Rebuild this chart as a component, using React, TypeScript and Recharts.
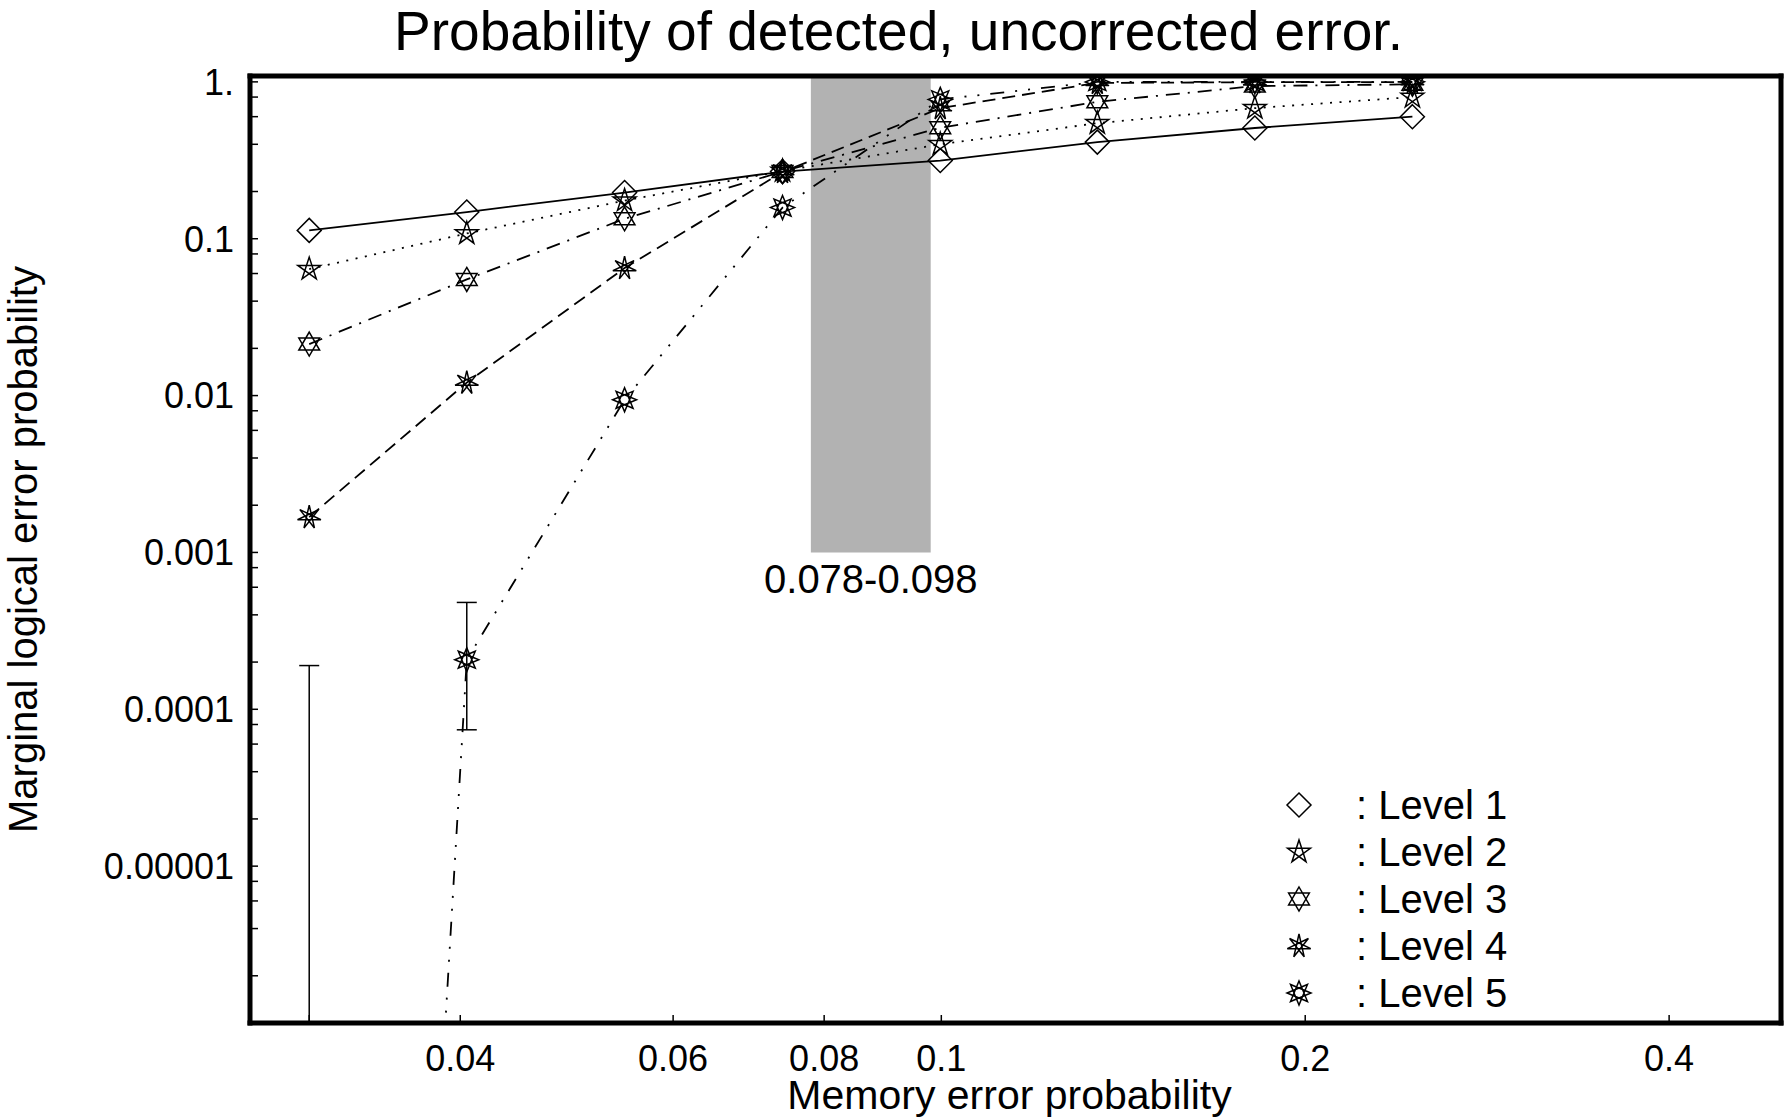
import React from 'react'
import {
  LineChart, Line, XAxis, YAxis, ReferenceArea, ErrorBar, Legend,
} from 'recharts'

const FONT = '"Liberation Sans", Arial, Helvetica, sans-serif'

// ── data ──────────────────────────────────────────────
const memoryError = [0.03, 0.0405, 0.0547, 0.0739, 0.0998, 0.1346, 0.1817, 0.2453]

const level1 = [0.113, 0.148, 0.197, 0.268, 0.315, 0.413, 0.508, 0.6]
const level2 = [0.064, 0.108, 0.175, 0.27, 0.4, 0.545, 0.68, 0.8]
const level3 = [0.0213, 0.055, 0.134, 0.268, 0.51, 0.746, 0.94, 0.965]
const level4 = [0.00168, 0.0121, 0.065, 0.266, 0.68, 0.985, 0.995, 0.998]
// first point is (practically) zero, far below the plot floor
const level5 = [2e-21, 0.000207, 0.0094, 0.158, 0.773, 0.999, 1.0, 1.0]

// error bounds on level 5 (only visible ones)
const level5Lower = [1e-6, 7.4e-5, null, null, null, null, null, null]
const level5Upper = [1.9e-4, 4.8e-4, null, null, null, null, null, null]

const xTicks = [0.03, 0.04, 0.06, 0.08, 0.1, 0.2, 0.4]
const xTickLabels = ['', '0.04', '0.06', '0.08', '0.1', '0.2', '0.4']

const yMajorTicks = [1e-5, 1e-4, 1e-3, 0.01, 0.1, 1]
const yMajorLabels = ['0.00001', '0.0001', '0.001', '0.01', '0.1', '1.']
const yMinorTicks = [
  1e-6, 2e-6, 4e-6, 6e-6, 8e-6,
  2e-5, 4e-5, 6e-5, 8e-5,
  2e-4, 4e-4, 6e-4, 8e-4,
  0.002, 0.004, 0.006, 0.008,
  0.02, 0.04, 0.06, 0.08,
  0.2, 0.4, 0.6, 0.8,
]

const bandRange = [0.078, 0.098]
const bandFloor = 0.001

const levelNames = ['Level 1', 'Level 2', 'Level 3', 'Level 4', 'Level 5']

const rows = memoryError.map((p, i) => ({
  p,
  l1: level1[i],
  l2: level2[i],
  l3: level3[i],
  l4: level4[i],
  l5: level5[i],
  eb: level5Upper[i],
  ebErr: level5Upper[i] != null ? [level5Upper[i]! - level5Lower[i]!, 0] : undefined,
}))

const yTicks = [...yMinorTicks, ...yMajorTicks].sort((a, b) => a - b)

const fmtX = (v: number) => {
  const i = xTicks.findIndex(t => Math.abs(t - v) < t * 1e-6)
  return i >= 0 ? xTickLabels[i] : ''
}
const fmtY = (v: number) => {
  const i = yMajorTicks.findIndex(t => Math.abs(t - v) < t * 1e-6)
  return i >= 0 ? yMajorLabels[i] : ''
}

// ── markers ───────────────────────────────────────────
const R = 12

function starPath(cx: number, cy: number, r: number, n: number, k: number) {
  const pts = Array.from({ length: n }, (_, i) => {
    const a = -Math.PI / 2 + (i * 2 * Math.PI) / n
    return [cx + r * Math.cos(a), cy + r * Math.sin(a)]
  })
  const gcd = (a: number, b: number): number => (b ? gcd(b, a % b) : a)
  const loops = gcd(n, k)
  let d = ''
  for (let s = 0; s < loops; s++) {
    let idx = s
    for (let j = 0; j < n / loops; j++) {
      const [x, y] = pts[idx]
      d += `${j === 0 ? 'M' : 'L'}${x.toFixed(2)},${y.toFixed(2)} `
      idx = (idx + k) % n
    }
    d += 'Z '
  }
  return d
}

function markerPath(kind: number, cx: number, cy: number) {
  switch (kind) {
    case 0:
      return `M${cx},${cy - R} L${cx + R},${cy} L${cx},${cy + R} L${cx - R},${cy} Z`
    case 1:
      return starPath(cx, cy, R, 5, 2)
    case 2:
      return starPath(cx, cy, R, 6, 2)
    case 3:
      return starPath(cx, cy, R, 7, 3)
    default:
      return starPath(cx, cy, R, 8, 3)
  }
}

const makeDot = (kind: number) => (props: any) => {
  const { cx, cy, index } = props
  if (cx == null || cy == null || !isFinite(cx) || !isFinite(cy)) return <g key={`d${kind}-${index}`} />
  return (
    <path key={`d${kind}-${index}`} d={markerPath(kind, cx, cy)}
      fill="none" stroke="#000" strokeWidth={1.5} strokeLinejoin="miter" />
  )
}

const LegendBox = () => (
  <svg width={320} height={240}>
    {levelNames.map((name, i) => (
      <g key={name}>
        <path d={markerPath(i, 29, 25 + i * 47)} fill="none" stroke="#000" strokeWidth={1.5} />
        <text x={86} y={25 + i * 47} dy="0.36em" fontSize={40} fontFamily={FONT} fill="#000">
          : {name}
        </text>
      </g>
    ))}
  </svg>
)

const axisLine = { stroke: '#000', strokeWidth: 5, strokeLinecap: 'square' as const }
const tickLine = { stroke: '#000', strokeWidth: 1.5 }
const xDomain = [0.0268, 0.495]
const yDomain = [1e-6, 1.09]

const series = [
  { key: 'l1', dash: undefined },
  { key: 'l2', dash: '2 7.5' },
  { key: 'l3', dash: '14 8 2 8' },
  { key: 'l4', dash: '13 7' },
  { key: 'l5', dash: '14 11 2 11 2 11' },
]

export default function App() {
  return (
    <div style={{ position: 'absolute', left: 0, top: 0, width: 1787, height: 1119, background: '#fff', fontFamily: FONT }}>
      <LineChart width={1787} height={1119} data={rows}
        margin={{ top: 75, right: 5, left: 0, bottom: 0 }}>
        <XAxis dataKey="p" type="number" scale="log" domain={xDomain} allowDataOverflow
          ticks={xTicks} interval={0} tickFormatter={fmtX}
          tickSize={-8} tickMargin={30} height={96}
          axisLine={axisLine} tickLine={tickLine}
          tick={{ fill: '#000', fontSize: 36, fontFamily: FONT }}
          label={{ value: 'Memory error probability', position: 'insideBottom', offset: 10, dx: -6, fill: '#000', fontSize: 41, fontFamily: FONT }} />
        <XAxis xAxisId="top" orientation="top" dataKey="p" type="number" scale="log" domain={xDomain} allowDataOverflow
          ticks={xTicks} interval={0} tick={false} tickSize={-8} height={1}
          axisLine={axisLine} tickLine={tickLine} />
        <YAxis type="number" scale="log" domain={yDomain} allowDataOverflow
          ticks={yTicks} interval={0} tickFormatter={fmtY}
          tickSize={-8} tickMargin={24} width={250}
          axisLine={axisLine} tickLine={tickLine}
          tick={{ fill: '#000', fontSize: 36, fontFamily: FONT }}
          label={{ value: 'Marginal logical error probability', angle: -90, position: 'insideLeft', offset: 32, dx: -9, fill: '#000', fontSize: 40, fontFamily: FONT, style: { textAnchor: 'middle' } }} />
        <YAxis yAxisId="right" orientation="right" type="number" scale="log" domain={yDomain} allowDataOverflow
          ticks={yTicks} interval={0} tick={false} tickSize={-8} width={1}
          axisLine={axisLine} tickLine={tickLine} />

        <ReferenceArea x1={bandRange[0]} x2={bandRange[1]} y1={bandFloor} y2={yDomain[1]}
          fill="#b2b2b2" fillOpacity={1} stroke="none"
          label={{ value: `${bandRange[0]}-${bandRange[1]}`, position: 'bottom', offset: 12, fill: '#000', fontSize: 40, fontFamily: FONT }} />

        {series.map((s, i) => (
          <Line key={s.key} dataKey={s.key} type="linear" stroke="#000" strokeWidth={1.8}
            strokeDasharray={s.dash} dot={makeDot(i)} activeDot={false}
            isAnimationActive={false} />
        ))}

        {/* hidden series so the mirrored top / right axes get drawn */}
        <Line xAxisId="top" yAxisId="right" dataKey="l1" stroke="none" dot={false} activeDot={false}
          legendType="none" isAnimationActive={false} />

        <Line dataKey="eb" stroke="none" dot={false} activeDot={false} legendType="none"
          isAnimationActive={false}>
          <ErrorBar dataKey="ebErr" width={10} stroke="#000" strokeWidth={1.5} direction="y" />
        </Line>

        <Legend layout="vertical" align="center" verticalAlign="middle"
          content={() => <LegendBox />}
          wrapperStyle={{ left: 1270, top: 780, width: 320, height: 240 }} />
      </LineChart>
      <div style={{ position: 'absolute', left: 5, top: 3, width: 1787, textAlign: 'center', fontSize: 55, lineHeight: '56px', color: '#000' }}>
        Probability of detected, uncorrected error.
      </div>
    </div>
  )
}
